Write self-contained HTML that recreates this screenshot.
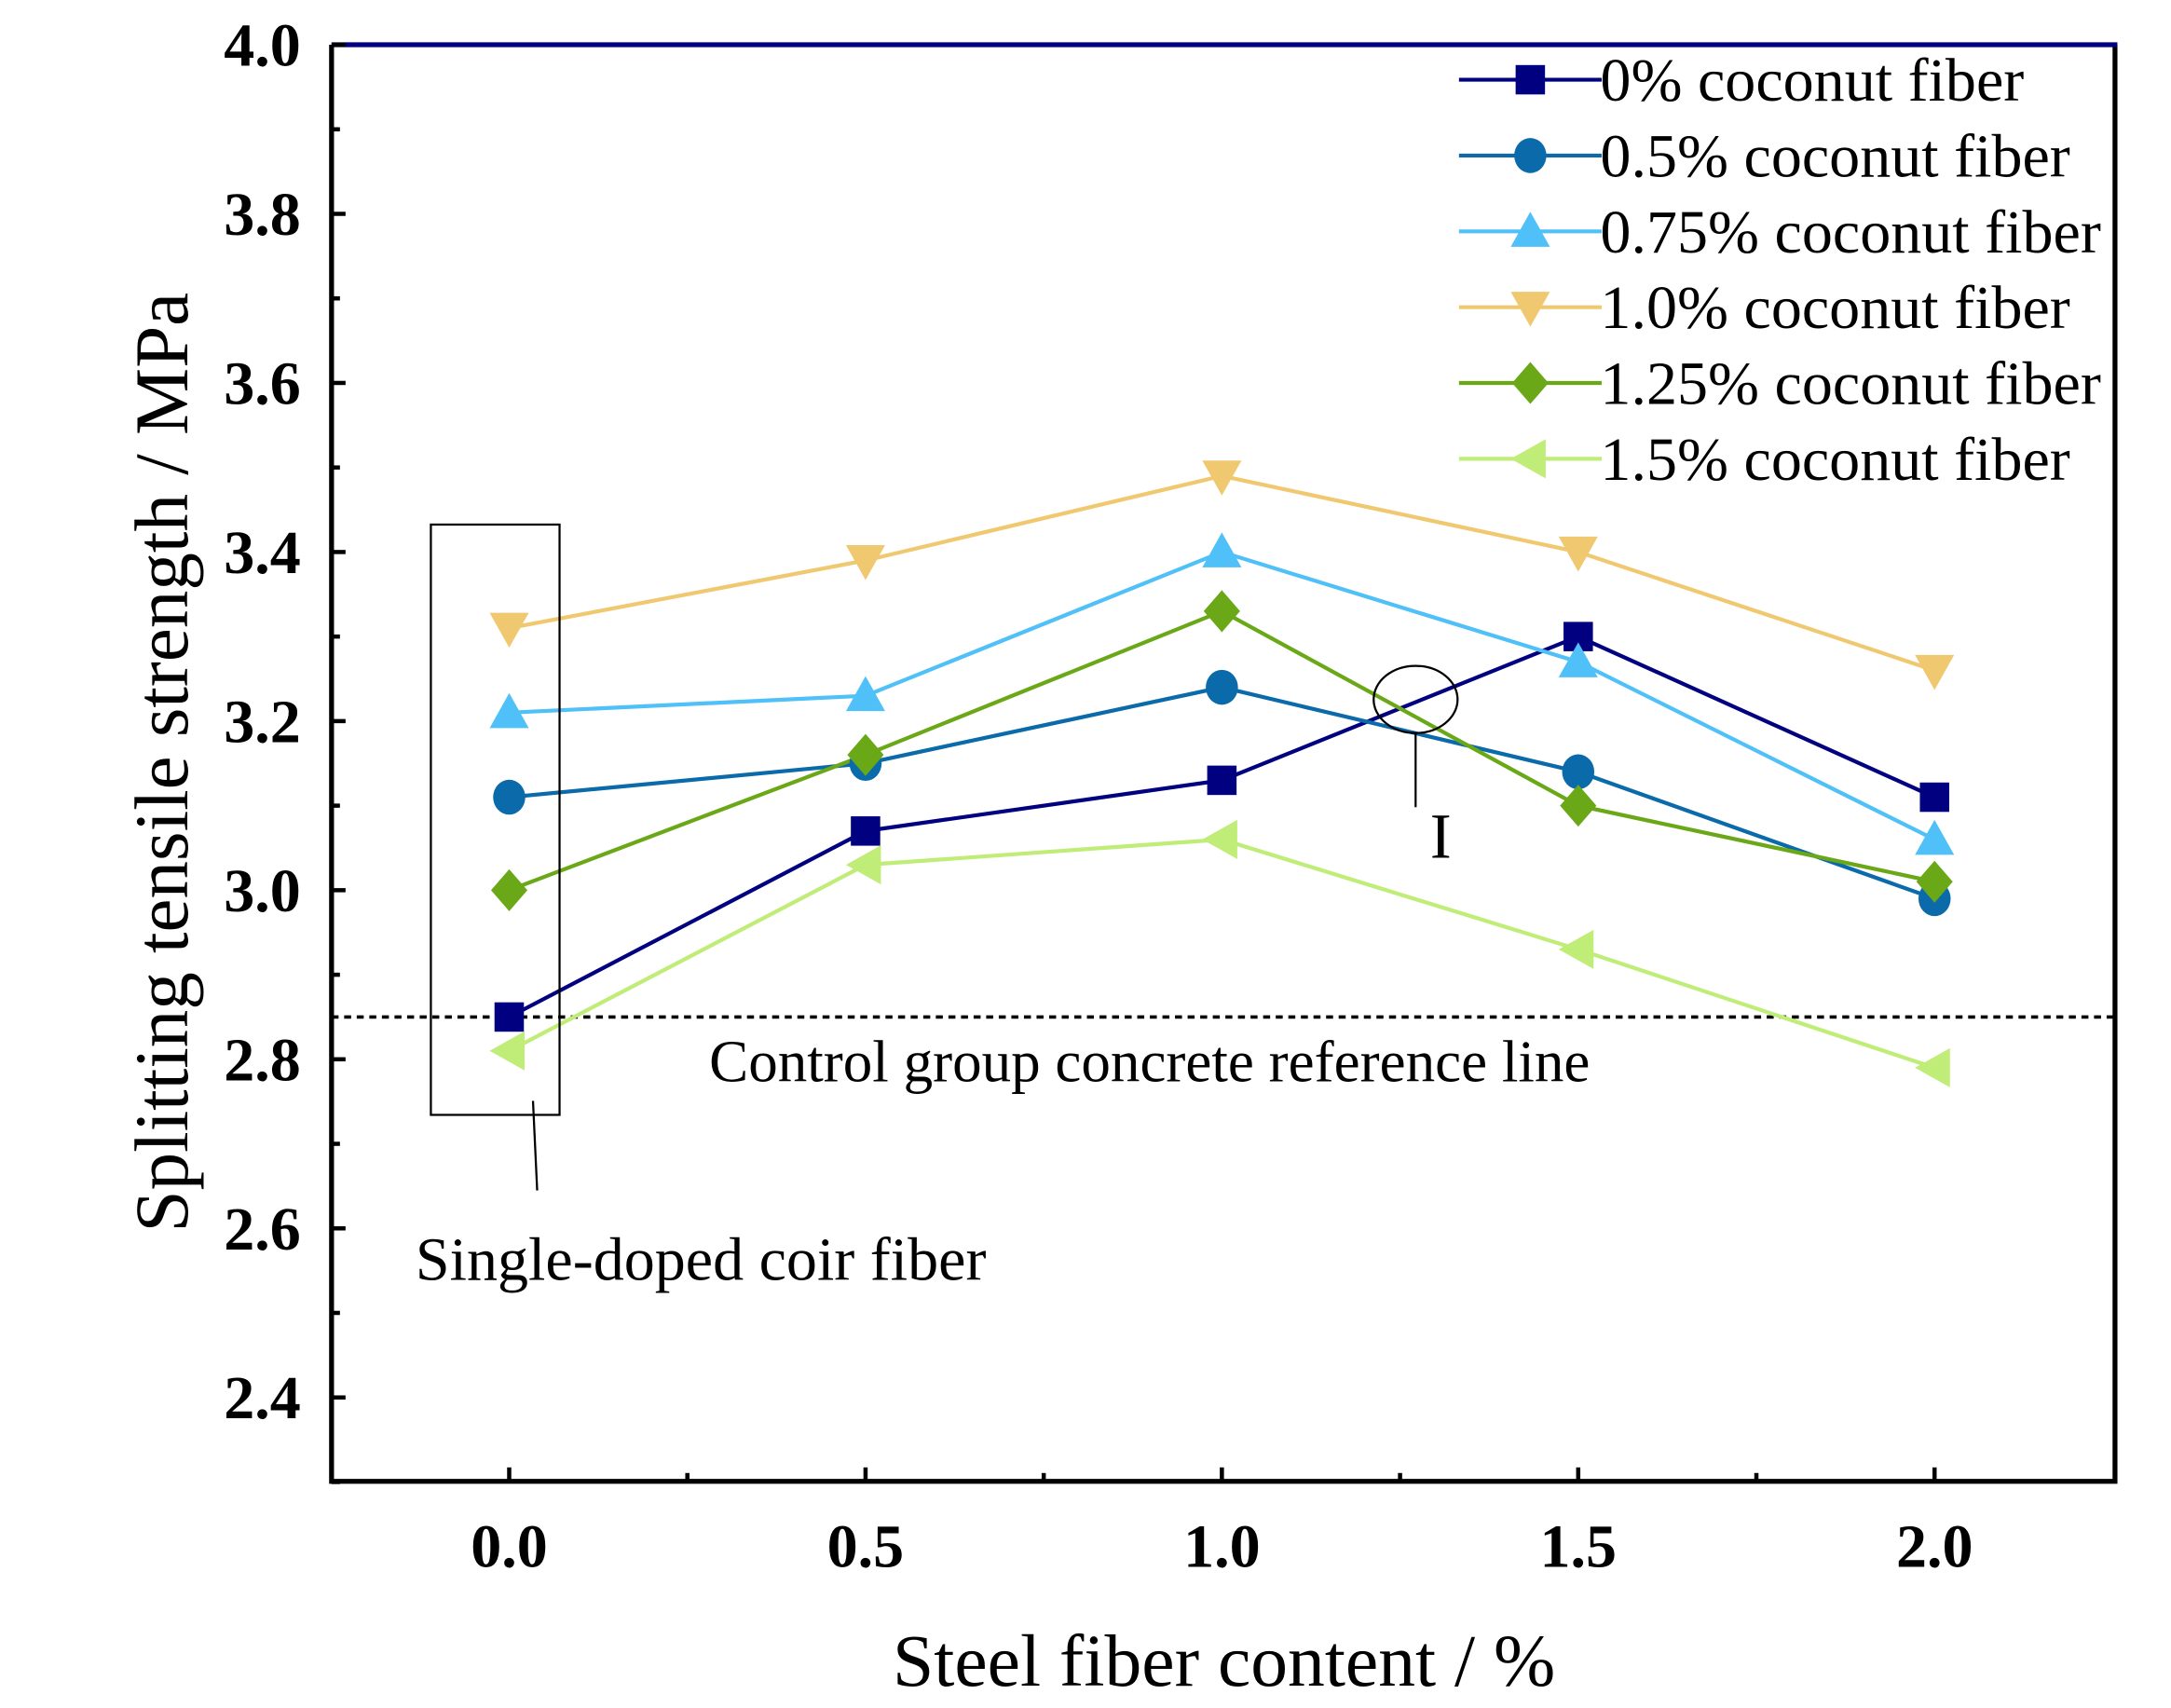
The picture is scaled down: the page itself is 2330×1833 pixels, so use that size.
<!DOCTYPE html>
<html><head><meta charset="utf-8"><style>html,body{margin:0;padding:0;background:#fff}svg{display:block}</style></head>
<body>
<svg id="chart" width="2330" height="1833" viewBox="0 0 1552 1221" xmlns="http://www.w3.org/2000/svg" font-family="'Liberation Serif', serif">
<rect width="1552" height="1221" fill="#fff"/>
<g id="plot"></g>
</svg>
<script>
const xCats = [0, 0.5, 1.0, 1.5, 2.0];
const xTickLabels = ["0.0", "0.5", "1.0", "1.5", "2.0"];
const yTicks = [2.4, 2.6, 2.8, 3.0, 3.2, 3.4, 3.6, 3.8, 4.0];
const yTickLabels = ["2.4", "2.6", "2.8", "3.0", "3.2", "3.4", "3.6", "3.8", "4.0"];
const seriesNames = ["0% coconut fiber", "0.5% coconut fiber", "0.75% coconut fiber", "1.0% coconut fiber", "1.25% coconut fiber", "1.5% coconut fiber"];
const s0 = [2.85, 3.07, 3.13, 3.30, 3.11];
const s05 = [3.11, 3.15, 3.24, 3.14, 2.99];
const s075 = [3.21, 3.23, 3.40, 3.27, 3.06];
const s10 = [3.31, 3.39, 3.49, 3.40, 3.26];
const s125 = [3.00, 3.16, 3.33, 3.10, 3.01];
const s15 = [2.81, 3.03, 3.06, 2.93, 2.79];
const controlValue = 2.85;

const NS = "http://www.w3.org/2000/svg";
const L = 237, R = 1512, T = 32, B = 1059;
const X = v => 364 + (v - 0) * (1383 - 364) / 2;
const Y = v => 999 - (v - 2.4) * (999 - 32) / 1.6;
const g = document.getElementById('plot');
function mk(tag, attrs, parent) {
  const e = document.createElementNS(NS, tag);
  for (const k in attrs) e.setAttribute(k, attrs[k]);
  (parent || g).appendChild(e);
  return e;
}
const colors = ["#000080", "#0a6aaa", "#4fc0f8", "#f0c870", "#6aa818", "#c0ec78"];
const shapes = ["square", "circle", "up", "down", "diamond", "left"];
const allSeries = [s0, s05, s075, s10, s125, s15];

function marker(shape, cx, cy, color) {
  let e;
  const r = 11;
  if (shape === "square") e = mk('rect', {x: cx - 10.5, y: cy - 10.5, width: 21, height: 21, fill: color});
  else if (shape === "circle") e = mk('ellipse', {cx: cx, cy: cy, rx: 11.5, ry: 12.5, fill: color});
  else if (shape === "up") e = mk('polygon', {points: `${cx},${cy - r - 3} ${cx - r - 3},${cy + r} ${cx + r + 3},${cy + r}`, fill: color});
  else if (shape === "down") e = mk('polygon', {points: `${cx},${cy + r + 3} ${cx - r - 3},${cy - r} ${cx + r + 3},${cy - r}`, fill: color});
  else if (shape === "diamond") e = mk('polygon', {points: `${cx},${cy - 15} ${cx + 13},${cy} ${cx},${cy + 15} ${cx - 13},${cy}`, fill: color});
  else e = mk('polygon', {points: `${cx - r - 3},${cy} ${cx + r},${cy - r - 3} ${cx + r},${cy + r + 3}`, fill: color});
  return e;
}

const ref = mk('line', {x1: L, x2: R, y1: Y(controlValue), y2: Y(controlValue), stroke: '#000', 'stroke-width': 2.4, 'stroke-dasharray': '5,4'});



allSeries.forEach((s, i) => {
  const pts = s.map((v, j) => X(xCats[j]) + ',' + Y(v)).join(' ');
  const pl = mk('polyline', {points: pts, fill: 'none', stroke: colors[i], 'stroke-width': 2.8});
  
  
});
allSeries.forEach((s, i) => {
  s.forEach((v, j) => {
    const m = marker(shapes[i], X(xCats[j]), Y(v), colors[i]);
    
    
  });
});

const fr = mk('path', {d: `M${L},${T} L${L},${B} L${R},${B} L${R},${T}`, fill: 'none', stroke: '#000', 'stroke-width': 3.5});


const topAxis = mk('line', {x1: L, x2: R + 1.7, y1: T, y2: T, stroke: '#000080', 'stroke-width': 3.5});



yTicks.forEach((v, i) => {
  const t = mk('line', {x1: L, x2: L + 10, y1: Y(v), y2: Y(v), stroke: '#000', 'stroke-width': 3});
  
  
  const m = mk('line', {x1: L, x2: L + 6, y1: Y(v - 0.1), y2: Y(v - 0.1), stroke: '#000', 'stroke-width': 3});
  
  
  const tx = mk('text', {x: 215, y: Y(v) + 15, 'text-anchor': 'end', 'font-size': 44, 'font-weight': 'bold'});
  tx.textContent = yTickLabels[i];
  
  
});
xCats.forEach((v, i) => {
  const t = mk('line', {x1: X(v), x2: X(v), y1: B, y2: B - 10, stroke: '#000', 'stroke-width': 3});
  
  
  if (i < xCats.length - 1) {
    const m = mk('line', {x1: X(v + 0.25), x2: X(v + 0.25), y1: B, y2: B - 6, stroke: '#000', 'stroke-width': 3});
    
    
  }
  const tx = mk('text', {x: X(v), y: 1120, 'text-anchor': 'middle', 'font-size': 44, 'font-weight': 'bold'});
  tx.textContent = xTickLabels[i];
  
  
});

const xt = mk('text', {x: 875, y: 1205, 'text-anchor': 'middle', 'font-size': 53});
xt.textContent = 'Steel fiber content / %';


const yt = mk('text', {x: 0, y: 0, 'text-anchor': 'middle', 'font-size': 54, transform: 'translate(134,545) rotate(-90)'});
yt.textContent = 'Splitting tensile strength / MPa';



seriesNames.forEach((n, i) => {
  const y = 57 + i * 54.2;
  const l = mk('line', {x1: 1043, x2: 1145, y1: y, y2: y, stroke: colors[i], 'stroke-width': 2.8});
  
  
  const m = marker(shapes[i], 1094, y, colors[i]);
  
  
  const tx = mk('text', {x: 1144, y: y + 15, 'font-size': 44});
  tx.textContent = n;
  
  
});

const box = mk('rect', {x: 308, y: 375, width: 92, height: 422, fill: 'none', stroke: '#000', 'stroke-width': 1.5});


const bl = mk('line', {x1: 381, y1: 787, x2: 384, y2: 851, stroke: '#000', 'stroke-width': 1.5});


const sd = mk('text', {x: 297, y: 915, 'font-size': 44});
sd.textContent = 'Single-doped coir fiber';


const cg = mk('text', {x: 507, y: 773, 'font-size': 42});
cg.textContent = 'Control group concrete reference line';


const el = mk('ellipse', {cx: 1012, cy: 500, rx: 30, ry: 24, fill: 'none', stroke: '#000', 'stroke-width': 1.5});


const il = mk('line', {x1: 1012, y1: 524, x2: 1012, y2: 577, stroke: '#000', 'stroke-width': 1.5});


const it = mk('text', {x: 1030, y: 613, 'text-anchor': 'middle', 'font-size': 46});
it.textContent = 'I';


</script>
</body></html>
